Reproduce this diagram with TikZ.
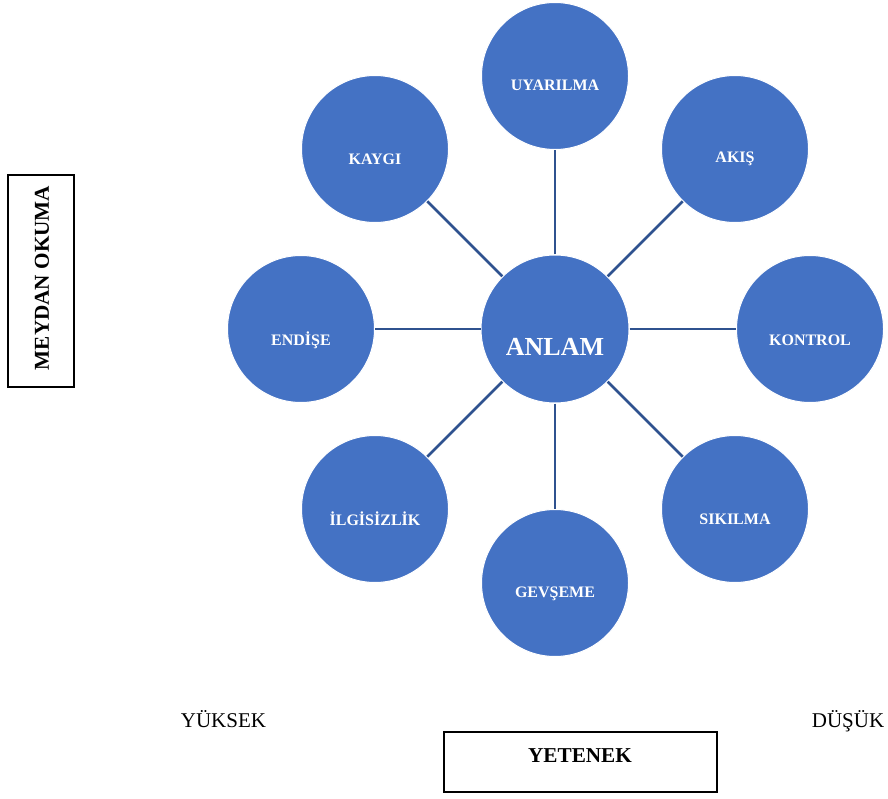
\documentclass[tikz,border=0pt]{standalone}
\usepackage{fontspec}
\setmainfont{Liberation Serif}
\definecolor{bubble}{HTML}{4472C4}
\definecolor{spoke}{HTML}{2F528F}
\begin{document}
\begin{tikzpicture}[x=1pt,y=-1pt,
  bubble/.style={circle, fill=bubble, draw=white, line width=1pt, minimum size=147pt, inner sep=0pt},
  hub/.style={bubble, minimum size=148pt},
  tag/.style={text=white, font=\bfseries\fontsize{16}{19}\selectfont},
  bigtag/.style={text=white, font=\bfseries\fontsize{26}{30}\selectfont},
  spokeline/.style={draw=spoke, line width=2.5pt},
  framebox/.style={draw=black, line width=1.8pt},
  axislabel/.style={font=\fontsize{21}{24}\selectfont, anchor=base},
  axistitle/.style={font=\bfseries\fontsize{21.2}{24}\selectfont}]
\useasboundingbox (0,0) rectangle (888,799);

% central circle
\node[hub, label={[bigtag, yshift=-18pt]center:ANLAM}] (anlam) at (555,329) {};

% surrounding circles
\node[bubble, label={[tag, yshift=-9pt]center:UYARILMA}] (uyarilma) at (555,76) {};
\node[bubble, label={[tag, yshift=-10pt]center:AKIŞ}] (akis) at (735,149) {};
\node[bubble, label={[tag, yshift=-11pt]center:KONTROL}] (kontrol) at (810,329) {};
\node[bubble, label={[tag, yshift=-10pt]center:SIKILMA}] (sikilma) at (735,509) {};
\node[bubble, label={[tag, yshift=-11pt]center:GEVŞEME}] (gevseme) at (555,583) {};
\node[bubble, label={[tag, yshift=-10pt]center:İLGİSİZLİK}] (ilgisizlik) at (375,509) {};
\node[bubble, label={[tag, yshift=-11pt]center:ENDİŞE}] (endise) at (301,329) {};
\node[bubble, label={[tag, yshift=-10pt]center:KAYGI}] (kaygi) at (375,149) {};

% spokes
\foreach \n in {uyarilma,akis,kontrol,sikilma,gevseme,ilgisizlik,endise,kaygi}
  \draw[spokeline] (anlam) -- (\n);

% axis boxes
\draw[framebox] (8,175) rectangle (74,387);
\node[axistitle, rotate=90] (meydan) at (42,278) {MEYDAN OKUMA};
\draw[framebox] (444,732) rectangle (717,792);
\node[axistitle] (yetenek) at (580,756) {YETENEK};

% axis ends
\node[axislabel] (yuksek) at (223.5,727) {YÜKSEK};
\node[axislabel] (dusuk) at (848,727) {DÜŞÜK};
\end{tikzpicture}
\end{document}
